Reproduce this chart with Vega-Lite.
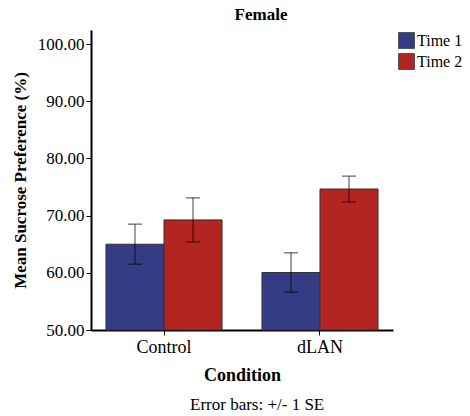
{
  "$schema": "https://vega.github.io/schema/vega-lite/v6.json",
  "background": "white",
  "padding": {"left": 11, "top": 6, "right": 5, "bottom": 2},
  "config": {
    "font": "Times New Roman, Liberation Serif, serif",
    "view": {"stroke": null},
    "axis": {"labelColor": "black", "titleColor": "black", "labelFont": "Times New Roman, Liberation Serif, serif", "titleFont": "Times New Roman, Liberation Serif, serif"},
    "legend": {"labelFont": "Times New Roman, Liberation Serif, serif"},
    "title": {"font": "Times New Roman, Liberation Serif, serif"}
  },
  "title": {"text": "Error bars: +/- 1 SE", "orient": "bottom", "anchor": "middle", "dx": 19, "fontSize": 17, "fontWeight": "normal", "color": "black", "offset": 13},
  "vconcat": [
    {
      "title": {"text": "Female", "anchor": "middle", "dx": 19, "fontSize": 17, "fontWeight": "bold", "color": "black", "offset": 6},
      "width": 302,
      "height": 300,
      "data": {"values": [
        {"Condition": "Control", "Time": "Time 1", "mean": 65.0, "lo": 61.5, "hi": 68.5},
        {"Condition": "Control", "Time": "Time 2", "mean": 69.25, "lo": 65.4, "hi": 73.1},
        {"Condition": "dLAN", "Time": "Time 1", "mean": 60.05, "lo": 56.6, "hi": 63.5},
        {"Condition": "dLAN", "Time": "Time 2", "mean": 74.65, "lo": 72.4, "hi": 76.9}
      ]},
      "encoding": {
        "x": {"field": "Condition", "type": "nominal", "sort": ["Control", "dLAN"],
          "scale": {"paddingInner": 0.256, "paddingOuter": 0.096},
          "axis": {"labelAngle": 0, "labelFontSize": 18, "title": "Condition", "titleFontSize": 18, "titleFontWeight": "bold", "domainColor": "black", "domainWidth": 2, "tickColor": "black", "tickSize": 5, "labelPadding": 3, "titlePadding": 10}},
        "xOffset": {"field": "Time", "type": "nominal", "sort": ["Time 1", "Time 2"], "scale": {"paddingInner": 0, "paddingOuter": 0}}
      },
      "layer": [
        {
          "mark": {"type": "bar", "stroke": "#333333", "strokeWidth": 1},
          "encoding": {
            "y": {"field": "mean", "type": "quantitative",
              "scale": {"domain": [50, 102.45], "nice": false, "zero": false},
              "axis": {"values": [50, 60, 70, 80, 90, 100], "format": ".2f", "grid": false, "labelFontSize": 17, "title": "Mean Sucrose Preference (%)", "titleFontSize": 17, "titleFontWeight": "bold", "domainColor": "black", "domainWidth": 2, "tickColor": "black", "tickSize": 5, "labelPadding": 2, "titlePadding": 8}},
            "y2": {"datum": 50},
            "color": {"field": "Time", "type": "nominal",
              "scale": {"domain": ["Time 1", "Time 2"], "range": ["#353c86", "#b22521"]},
              "legend": {"title": null, "orient": "right", "offset": 3, "padding": 2, "symbolType": "square", "symbolSize": 256, "symbolStrokeColor": "#555555", "symbolStrokeWidth": 1, "symbolOpacity": 1, "labelFontSize": 16, "labelColor": "black", "rowPadding": 0, "labelOffset": 2}}
          }
        },
        {
          "mark": {"type": "rule", "color": "black", "opacity": 0.5, "strokeWidth": 1.5},
          "encoding": {
            "y": {"field": "lo", "type": "quantitative"},
            "y2": {"field": "hi"}
          }
        },
        {
          "mark": {"type": "tick", "color": "black", "opacity": 0.5, "thickness": 1.5, "size": 14, "orient": "horizontal"},
          "encoding": {"y": {"field": "lo", "type": "quantitative"}}
        },
        {
          "mark": {"type": "tick", "color": "black", "opacity": 0.5, "thickness": 1.5, "size": 14, "orient": "horizontal"},
          "encoding": {"y": {"field": "hi", "type": "quantitative"}}
        }
      ]
    }
  ]
}
